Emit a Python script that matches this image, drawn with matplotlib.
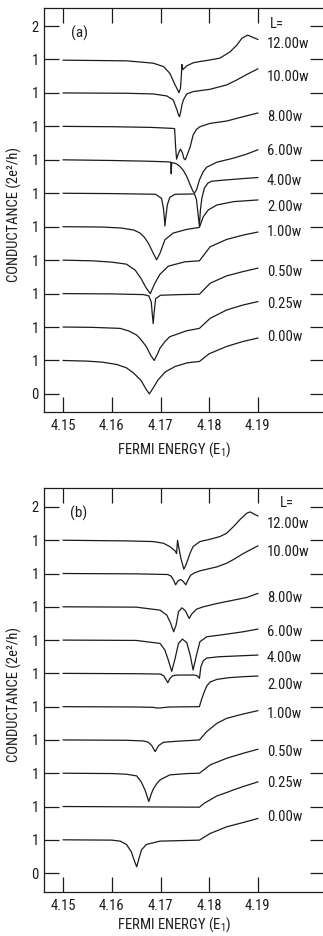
import matplotlib
matplotlib.use("Agg")
import matplotlib.pyplot as plt
from matplotlib import font_manager

# lengths of the curves, bottom curve first (curve i is shifted up by i)
LENGTHS = [0.00, 0.25, 0.50, 1.00, 2.00, 4.00, 6.00, 8.00, 10.00, 12.00]

X_TICKS = [4.15, 4.16, 4.17, 4.18, 4.19]
Y_TICKS = list(range(12))
Y_TICK_LABELS = ["0"] + ["1"] * 10 + ["2"]

# ---- panel (a): conductance vs Fermi energy ----
E_A0 = [4.150, 4.155, 4.158, 4.161, 4.163, 4.1645, 4.166, 4.1670, 4.1677, 4.1685, 4.1695, 4.171, 4.173, 4.1755, 4.178, 4.180, 4.1836, 4.187, 4.190]
G_A0 = [1.00, 0.98, 0.95, 0.88, 0.78, 0.62, 0.40, 0.15, 0.00, 0.18, 0.42, 0.66, 0.82, 0.93, 0.97, 1.20, 1.42, 1.57, 1.67]
E_A1 = [4.150, 4.156, 4.1617, 4.1635, 4.1651, 4.1660, 4.1671, 4.1680, 4.1687, 4.1694, 4.1699, 4.1710, 4.1719, 4.1754, 4.1780, 4.1802, 4.1836, 4.1870, 4.190]
G_A1 = [1.00, 0.99, 0.96, 0.88, 0.76, 0.62, 0.41, 0.15, 0.00, 0.20, 0.37, 0.58, 0.71, 0.89, 0.96, 1.26, 1.51, 1.66, 1.76]
E_A2 = [4.150, 4.160, 4.1665, 4.1676, 4.1681, 4.1683, 4.1685, 4.1687, 4.1690, 4.1700, 4.1740, 4.1780, 4.1802, 4.1836, 4.1870, 4.190]
G_A2 = [1.00, 0.99, 0.97, 0.93, 0.75, 0.40, 0.10, 0.45, 0.85, 0.95, 0.97, 0.98, 1.31, 1.53, 1.66, 1.76]
E_A3 = [4.150, 4.156, 4.160, 4.163, 4.1648, 4.166, 4.1670, 4.1679, 4.1688, 4.1699, 4.1716, 4.1750, 4.1780, 4.1802, 4.1836, 4.1870, 4.190]
G_A3 = [1.00, 0.98, 0.94, 0.88, 0.70, 0.45, 0.18, 0.00, 0.30, 0.58, 0.82, 0.95, 0.98, 1.40, 1.62, 1.75, 1.84]
E_A4 = [4.150, 4.158, 4.162, 4.1645, 4.1658, 4.1667, 4.1675, 4.1685, 4.1692, 4.1699, 4.1709, 4.1726, 4.1754, 4.1780, 4.1788, 4.1798, 4.1816, 4.1850, 4.190]
G_A4 = [1.00, 0.99, 0.96, 0.90, 0.81, 0.68, 0.51, 0.21, 0.01, 0.21, 0.61, 0.81, 0.92, 0.98, 1.30, 1.50, 1.65, 1.75, 1.80]
E_A5 = [4.150, 4.160, 4.1690, 4.1702, 4.1706, 4.1708, 4.1709, 4.1711, 4.1714, 4.1719, 4.1730, 4.1770, 4.1774, 4.1777, 4.1780, 4.1782, 4.1785, 4.1790, 4.1797, 4.1805, 4.1836, 4.1870, 4.190]
G_A5 = [1.00, 0.99, 0.97, 0.85, 0.55, 0.25, 0.02, 0.30, 0.65, 0.88, 0.97, 0.98, 0.80, 0.40, 0.02, 0.50, 0.85, 1.15, 1.30, 1.36, 1.40, 1.44, 1.47]
E_A6 = [4.150, 4.160, 4.167, 4.1715, 4.1721, 4.1722, 4.1723, 4.1733, 4.1740, 4.1747, 4.1754, 4.1761, 4.1767, 4.1770, 4.1774, 4.1780, 4.1788, 4.1795, 4.1816, 4.1850, 4.1877, 4.190]
G_A6 = [1.00, 0.98, 0.96, 0.94, 0.93, 0.58, 0.92, 0.88, 0.80, 0.68, 0.50, 0.25, 0.05, 0.01, 0.10, 0.40, 0.65, 0.78, 0.93, 1.05, 1.17, 1.30]
E_A7 = [4.150, 4.160, 4.168, 4.1725, 4.1729, 4.1731, 4.1733, 4.1737, 4.1741, 4.1745, 4.1748, 4.1751, 4.1757, 4.1761, 4.1767, 4.1774, 4.1781, 4.1802, 4.1836, 4.1870, 4.190]
G_A7 = [1.00, 0.99, 0.97, 0.94, 0.93, 0.40, 0.02, 0.20, 0.32, 0.21, 0.04, 0.00, 0.23, 0.39, 0.74, 0.91, 0.99, 1.09, 1.16, 1.29, 1.40]
E_A8 = [4.150, 4.163, 4.1685, 4.1713, 4.1726, 4.1730, 4.1734, 4.1737, 4.1739, 4.1741, 4.1744, 4.1747, 4.1754, 4.1767, 4.1802, 4.1836, 4.1857, 4.1877, 4.190]
G_A8 = [1.00, 0.99, 0.97, 0.91, 0.79, 0.64, 0.49, 0.34, 0.29, 0.40, 0.64, 0.79, 0.97, 1.04, 1.11, 1.24, 1.39, 1.55, 1.72]
E_A9 = [4.150, 4.163, 4.1685, 4.1706, 4.1719, 4.1730, 4.1738, 4.1741, 4.1743, 4.1744, 4.1746, 4.1754, 4.1767, 4.1781, 4.1795, 4.1822, 4.1843, 4.1857, 4.1867, 4.1879, 4.190]
G_A9 = [0.98, 0.96, 0.89, 0.79, 0.59, 0.24, 0.01, 0.14, 0.55, 0.85, 0.70, 0.81, 0.90, 0.94, 0.97, 1.04, 1.23, 1.43, 1.63, 1.73, 1.60]

# ---- panel (b) ----
E_B0 = [4.150, 4.160, 4.1617, 4.1630, 4.1640, 4.1645, 4.1651, 4.1656, 4.1661, 4.1671, 4.1699, 4.1780, 4.1802, 4.1836, 4.1870, 4.190]
G_B0 = [1.00, 0.99, 0.96, 0.86, 0.64, 0.42, 0.19, 0.45, 0.70, 0.86, 0.96, 0.99, 1.19, 1.39, 1.52, 1.64]
E_B1 = [4.150, 4.165, 4.1780, 4.1790, 4.1802, 4.1816, 4.1836, 4.1850, 4.1870, 4.190]
G_B1 = [1.00, 0.99, 0.98, 1.10, 1.20, 1.32, 1.42, 1.50, 1.60, 1.74]
E_B2 = [4.150, 4.160, 4.1630, 4.1651, 4.1660, 4.1668, 4.1676, 4.1681, 4.1686, 4.1692, 4.1699, 4.1719, 4.1754, 4.1780, 4.1802, 4.1836, 4.1870, 4.190]
G_B2 = [1.00, 0.99, 0.97, 0.92, 0.75, 0.50, 0.15, 0.38, 0.55, 0.68, 0.80, 0.95, 0.99, 1.00, 1.25, 1.45, 1.60, 1.72]
E_B3 = [4.150, 4.163, 4.1665, 4.1675, 4.1682, 4.1689, 4.1696, 4.1706, 4.1733, 4.1780, 4.1795, 4.1816, 4.1836, 4.1870, 4.190]
G_B3 = [1.00, 0.99, 0.97, 0.93, 0.83, 0.65, 0.83, 0.93, 0.96, 1.00, 1.25, 1.50, 1.65, 1.78, 1.88]
E_B4 = [4.150, 4.165, 4.1685, 4.1692, 4.1699, 4.1710, 4.1720, 4.1780, 4.1784, 4.1790, 4.1795, 4.1802, 4.1816, 4.1840, 4.1870, 4.190]
G_B4 = [1.00, 0.99, 0.98, 0.96, 0.96, 0.98, 0.99, 1.00, 1.20, 1.45, 1.62, 1.74, 1.82, 1.87, 1.90, 1.92]
E_B5 = [4.150, 4.165, 4.1700, 4.1707, 4.1711, 4.1715, 4.1719, 4.1725, 4.1735, 4.1770, 4.1776, 4.1780, 4.1783, 4.1788, 4.1795, 4.1820, 4.190]
G_B5 = [1.00, 0.99, 0.98, 0.92, 0.82, 0.72, 0.84, 0.93, 0.95, 0.95, 0.92, 0.85, 1.20, 1.38, 1.46, 1.50, 1.55]
E_B6 = [4.150, 4.165, 4.1699, 4.1709, 4.1716, 4.1723, 4.1730, 4.1737, 4.1745, 4.1754, 4.1761, 4.1767, 4.1774, 4.1781, 4.1795, 4.1822, 4.1870, 4.190]
G_B6 = [1.00, 0.99, 0.90, 0.70, 0.40, 0.06, 0.45, 0.90, 1.03, 0.92, 0.55, 0.10, 0.55, 0.95, 1.10, 1.15, 1.25, 1.33]
E_B7 = [4.150, 4.165, 4.1699, 4.1713, 4.1721, 4.1727, 4.1732, 4.1737, 4.1744, 4.1751, 4.1759, 4.1764, 4.1774, 4.1788, 4.1816, 4.1850, 4.1877, 4.190]
G_B7 = [1.00, 0.99, 0.90, 0.75, 0.50, 0.25, 0.45, 0.85, 0.97, 0.88, 0.65, 0.78, 0.93, 1.00, 1.10, 1.20, 1.28, 1.40]
E_B8 = [4.150, 4.165, 4.1715, 4.1722, 4.1727, 4.1731, 4.1736, 4.1741, 4.1747, 4.1752, 4.1757, 4.1762, 4.1770, 4.1781, 4.1816, 4.1836, 4.1850, 4.1870, 4.190]
G_B8 = [1.00, 0.99, 0.97, 0.92, 0.80, 0.66, 0.78, 0.82, 0.76, 0.66, 0.82, 0.95, 1.02, 1.08, 1.20, 1.31, 1.42, 1.60, 1.83]
E_B9 = [4.150, 4.163, 4.1685, 4.1706, 4.1719, 4.1730, 4.1733, 4.1735, 4.1738, 4.1742, 4.1748, 4.1752, 4.1757, 4.1761, 4.1767, 4.1781, 4.1802, 4.1822, 4.1836, 4.1850, 4.1864, 4.1877, 4.1884, 4.190]
G_B9 = [1.00, 0.98, 0.96, 0.91, 0.81, 0.68, 0.60, 1.00, 0.75, 0.45, 0.13, 0.25, 0.45, 0.62, 0.81, 0.96, 1.03, 1.11, 1.21, 1.41, 1.63, 1.81, 1.85, 1.73]

# where the "L" labels sit (data units, already stacked)
LABEL_Y_A = [1.70, 2.69, 3.64, 4.83, 5.58, 6.37, 7.27, 8.27, 9.47, 10.46]
LABEL_Y_B = [1.69, 2.71, 3.64, 4.79, 5.65, 6.45, 7.25, 8.25, 9.66, 10.49]

INK = "#1c1c1c"


def pick_narrow_font():
    # the scan uses a narrow plotter lettering, so look for any condensed sans face
    entries = font_manager.fontManager.ttflist
    names = {f.name for f in entries}
    for n in ["Liberation Sans Narrow", "Roboto Condensed", "Open Sans Condensed",
              "Noto Sans Condensed", "DejaVu Sans Condensed"]:
        if n in names:
            return n, "normal", 10.5
    for f in entries:
        if str(f.stretch) in ("condensed", "semi-condensed", "extra-condensed") and \
                "Mono" not in f.name and "Serif" not in f.name:
            return f.name, str(f.stretch), 10.5
    return "DejaVu Sans", "normal", 9


FONT, STRETCH, FS = pick_narrow_font()
plt.rcParams["font.family"] = [FONT, "DejaVu Sans"]
plt.rcParams["font.stretch"] = STRETCH
plt.rcParams["mathtext.fontset"] = "custom"
plt.rcParams["mathtext.rm"] = FONT
plt.rcParams["mathtext.it"] = FONT


def draw_panel(ax, curves, label_y, tag, l_xy, ylim, xlabel_y):
    for i, (e, g) in enumerate(curves):
        ax.plot(e, [v + i for v in g], color=INK, lw=0.9)
        ax.text(4.1919, label_y[i], f"{LENGTHS[i]:.2f}w", ha="left", va="center",
                fontsize=FS, color=INK)

    ax.text(l_xy[0], l_xy[1], "L=", transform=ax.transAxes, ha="center", va="center",
            fontsize=FS, color=INK)
    ax.text(0.124, 0.939, tag, transform=ax.transAxes, ha="center", va="center",
            fontsize=FS + 0.5, color=INK)

    ax.set_xlim(4.1461, 4.2038)
    ax.set_ylim(*ylim)
    ax.set_xticks(X_TICKS)
    ax.set_xticklabels([f"{t:.2f}" for t in X_TICKS])
    ax.set_yticks(Y_TICKS)
    ax.set_yticklabels(Y_TICK_LABELS)
    ax.tick_params(direction="in", length=10.5, width=0.9, top=True, right=True,
                   labelsize=FS, colors=INK)
    ax.tick_params(axis="y", pad=4)
    ax.tick_params(axis="x", pad=5)
    for s in ax.spines.values():
        s.set_linewidth(0.9)
        s.set_color(INK)

    ax.set_xlabel(r"FERMI ENERGY (E$_1$)", fontsize=FS, color=INK)
    ax.xaxis.set_label_coords(0.462, xlabel_y)
    ax.set_ylabel("CONDUCTANCE (2e²/h)", fontsize=FS, color=INK)
    ax.yaxis.set_label_coords(-0.08, 0.49)


curves_a = [(E_A0, G_A0), (E_A1, G_A1), (E_A2, G_A2), (E_A3, G_A3), (E_A4, G_A4),
            (E_A5, G_A5), (E_A6, G_A6), (E_A7, G_A7), (E_A8, G_A8), (E_A9, G_A9)]
curves_b = [(E_B0, G_B0), (E_B1, G_B1), (E_B2, G_B2), (E_B3, G_B3), (E_B4, G_B4),
            (E_B5, G_B5), (E_B6, G_B6), (E_B7, G_B7), (E_B8, G_B8), (E_B9, G_B9)]

fig = plt.figure(figsize=(3.23, 9.36), dpi=100)
ax_a = fig.add_axes([0.137, 0.5595, 0.869, 0.4316])
ax_b = fig.add_axes([0.137, 0.0473, 0.869, 0.4310])

draw_panel(ax_a, curves_a, LABEL_Y_A, "(a)", (0.829, 0.961), (-0.55, 11.53), -0.068)
draw_panel(ax_b, curves_b, LABEL_Y_B, "(b)", (0.865, 0.964), (-0.56, 11.56), -0.058)

fig.savefig("out.png", dpi=100)
